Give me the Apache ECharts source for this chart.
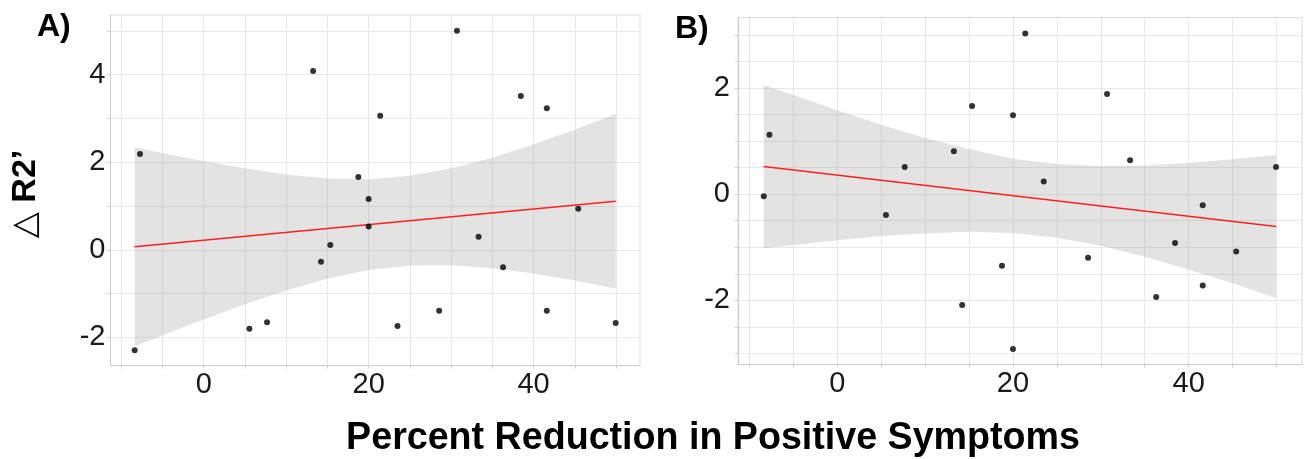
<!DOCTYPE html>
<html>
<head>
<meta charset="utf-8">
<script src="https://cdn.jsdelivr.net/npm/echarts@6/dist/echarts.min.js"></script>
<style>
html,body{margin:0;padding:0;background:#fff;}
#chart{width:1304px;height:459px;}
</style>
</head>
<body>
<div id="chart"></div>
<script>
// ---- data ----
const xVals = [-8.37, -7.72, 5.54, 7.68, 13.27, 14.22, 15.35, 18.75, 20.0, 20.0, 21.4, 23.5, 28.55, 30.71, 33.33, 36.3, 38.45, 41.6, 41.6, 45.41, 49.95];
const yA = [-2.29, 2.19, -1.80, -1.65, 4.08, -0.27, 0.11, 1.66, 1.16, 0.53, 3.06, -1.74, -1.39, 5.0, 0.30, -0.40, 3.51, 3.23, -1.39, 0.94, -1.67];
const yB = [-0.04, 1.12, -0.39, 0.51, 0.81, -2.09, 1.66, -1.35, 1.49, -2.92, 3.03, 0.24, -1.20, 1.89, 0.64, -1.94, -0.92, -0.21, -1.72, -1.08, 0.51];

const fitX = [-8.37, 49.95];
const fitA = [0.07, 1.11];
const fitB = [0.52, -0.61];

const bandX = [-8.37, -5, 0, 5, 10, 15, 20, 25, 30, 35, 40, 45, 49.95];
const lowA = [-2.20, -1.95, -1.59, -1.24, -0.93, -0.66, -0.46, -0.36, -0.35, -0.42, -0.54, -0.70, -0.88];
const upA  = [2.34, 2.21, 2.03, 1.86, 1.72, 1.63, 1.61, 1.69, 1.86, 2.10, 2.41, 2.74, 3.10];
const lowB = [-1.02, -0.96, -0.87, -0.79, -0.74, -0.71, -0.73, -0.82, -0.97, -1.18, -1.42, -1.68, -1.96];
const upB  = [2.06, 1.87, 1.58, 1.31, 1.06, 0.85, 0.67, 0.57, 0.53, 0.54, 0.59, 0.66, 0.74];

const xTicks = [-10, -5, 0, 5, 10, 15, 20, 25, 30, 35, 40, 45, 50];
const xLabels = [0, 20, 40];
const yTicksA = [-2, -1, 0, 1, 2, 3, 4, 5];
const yLabelsA = [-2, 0, 2, 4];
const yTicksB = [-3, -2.5, -2, -1.5, -1, -0.5, 0, 0.5, 1, 1.5, 2, 2.5, 3];
const yLabelsB = [-2, 0, 2];

const titleText = 'Percent Reduction in Positive Symptoms';
const yTitleText = '\u25B3 R2\u2019';

// ---- styles ----
const FONT = "'Liberation Sans', Arial, 'DejaVu Sans', sans-serif";
const GRIDC = '#e8e8e8';
const AXISC = '#cdcdcd';

function xAxisCfg(idx) {
  return {
    type: 'value', gridIndex: idx, min: -11.3, max: 52.9,
    axisLine: { show: true, onZero: false, lineStyle: { color: AXISC, width: 1 } },
    axisTick: { show: true, length: 3, customValues: xTicks, lineStyle: { color: AXISC } },
    axisLabel: { customValues: xLabels, color: '#1a1a1a', fontSize: 29, fontFamily: FONT, margin: 5 },
    splitLine: { show: true, lineStyle: { color: GRIDC, width: 1 } }
  };
}
function yAxisCfg(idx, min, max, ticks, labels, margin) {
  return {
    type: 'value', gridIndex: idx, min: min, max: max,
    axisLine: { show: true, onZero: false, lineStyle: { color: AXISC, width: 1 } },
    axisTick: { show: true, length: 3, customValues: ticks, lineStyle: { color: AXISC } },
    axisLabel: { customValues: labels, color: '#1a1a1a', fontSize: 29, fontFamily: FONT, margin: margin },
    splitLine: { show: true, lineStyle: { color: GRIDC, width: 1 } }
  };
}

function bandSeries(idx, lows, ups) {
  return {
    type: 'custom', xAxisIndex: idx, yAxisIndex: idx, silent: true, z: 1,
    data: [[bandX[0], lows[0]]],
    renderItem: function (params, api) {
      const pts = [];
      for (let i = 0; i < bandX.length; i++) pts.push(api.coord([bandX[i], ups[i]]));
      for (let i = bandX.length - 1; i >= 0; i--) pts.push(api.coord([bandX[i], lows[i]]));
      return { type: 'polygon', shape: { points: pts }, style: { fill: 'rgba(150,150,150,0.27)', stroke: null } };
    }
  };
}

function fitSeries(idx, ys) {
  return {
    type: 'line', xAxisIndex: idx, yAxisIndex: idx, symbol: 'none', silent: true, z: 2,
    data: fitX.map((x, i) => [x, ys[i]]),
    lineStyle: { color: '#ff1f1f', width: 1.5 }
  };
}

function pointSeries(idx, ys) {
  return {
    type: 'scatter', xAxisIndex: idx, yAxisIndex: idx, symbolSize: 6, z: 3, silent: true,
    itemStyle: { color: '#000' },
    data: xVals.map((x, i) => [x, ys[i]])
  };
}

const chart = echarts.init(document.getElementById('chart'), null, { renderer: 'canvas' });
chart.setOption({
  animation: false,
  backgroundColor: '#fff',
  grid: [
    { left: 110.5, top: 15, width: 529.5, height: 350.5, show: true, borderColor: '#dadada', borderWidth: 1, containLabel: false },
    { left: 738, top: 17.5, width: 564, height: 347, show: true, borderColor: '#dadada', borderWidth: 1, containLabel: false }
  ],
  xAxis: [xAxisCfg(0), xAxisCfg(1)],
  yAxis: [
    yAxisCfg(0, -2.64, 5.36, yTicksA, yLabelsA, 5),
    yAxisCfg(1, -3.21, 3.33, yTicksB, yLabelsB, 8)
  ],
  series: [
    bandSeries(0, lowA, upA), fitSeries(0, fitA), pointSeries(0, yA),
    bandSeries(1, lowB, upB), fitSeries(1, fitB), pointSeries(1, yB)
  ],
  graphic: [
    { type: 'text', x: 37, y: 27, style: { text: 'A)', font: "bold 32px " + FONT, fill: '#000', textAlign: 'left', textVerticalAlign: 'middle' } },
    { type: 'text', x: 675, y: 29, style: { text: 'B)', font: "bold 32px " + FONT, fill: '#000', textAlign: 'left', textVerticalAlign: 'middle' } },
    { type: 'text', x: 713, y: 439, scaleX: 0.99, style: { text: titleText, font: "bold 38px " + FONT, fill: '#000', textAlign: 'center', textVerticalAlign: 'middle' } },
    { type: 'text', x: 26, y: 194, rotation: Math.PI / 2, style: { text: yTitleText, font: "bold 34px " + FONT, fill: '#000', textAlign: 'center', textVerticalAlign: 'middle' } }
  ]
});
</script>
</body>
</html>
